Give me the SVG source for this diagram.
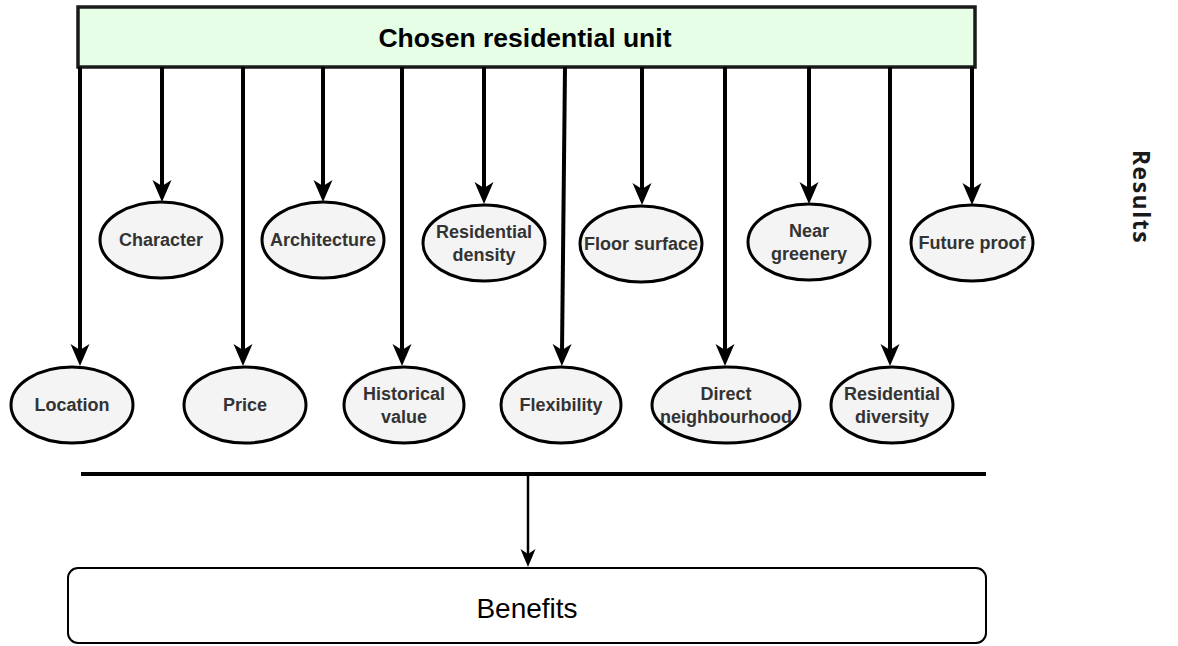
<svg xmlns="http://www.w3.org/2000/svg" width="1178" height="646" viewBox="0 0 1178 646">
  <style>
    .factor ellipse { fill: #f4f4f4; stroke: #000; stroke-width: 3; }
    .factor text { font-family: "Liberation Sans", Arial, sans-serif; font-weight: bold; font-size: 18px; fill: #333; text-anchor: middle; }
    .wire { stroke: #000; stroke-width: 4; fill: none; }
    .wire-thin { stroke: #000; stroke-width: 2.5; fill: none; }
  </style>
  <defs>
    <marker id="head" viewBox="0 -10 22 20" refX="8" refY="0" markerWidth="22" markerHeight="20" markerUnits="userSpaceOnUse" orient="auto">
      <path d="M22,0 L0,-9.5 L6,0 L0,9.5 Z" fill="#000"/>
    </marker>
    <marker id="head-small" viewBox="0 -8 18 16" refX="6" refY="0" markerWidth="18" markerHeight="16" markerUnits="userSpaceOnUse" orient="auto">
      <path d="M18,0 L0,-7.5 L5,0 L0,7.5 Z" fill="#000"/>
    </marker>
  </defs>

  <rect width="1178" height="646" fill="#fff"/>

  <!-- source box -->
  <g id="unit">
    <rect x="78" y="7" width="897" height="60" fill="#e6fde6" stroke="#1a1a1a" stroke-width="3.5"/>
    <text x="525" y="47" font-family="Liberation Sans, Arial, sans-serif" font-weight="bold" font-size="26.5" text-anchor="middle" fill="#000">Chosen residential unit</text>
  </g>

  <!-- connectors -->
  <g id="connectors">
    <line class="wire" x1="80" y1="67" x2="80" y2="352" marker-end="url(#head)"/>
    <line class="wire" x1="162" y1="67" x2="162" y2="188" marker-end="url(#head)"/>
    <line class="wire" x1="243" y1="67" x2="243" y2="352" marker-end="url(#head)"/>
    <line class="wire" x1="323" y1="67" x2="323" y2="188" marker-end="url(#head)"/>
    <line class="wire" x1="402" y1="67" x2="402" y2="352" marker-end="url(#head)"/>
    <line class="wire" x1="484" y1="67" x2="484" y2="190" marker-end="url(#head)"/>
    <line class="wire" x1="565" y1="67" x2="562" y2="352" marker-end="url(#head)"/>
    <line class="wire" x1="642" y1="67" x2="642" y2="191" marker-end="url(#head)"/>
    <line class="wire" x1="725" y1="67" x2="725" y2="352" marker-end="url(#head)"/>
    <line class="wire" x1="809" y1="67" x2="809" y2="190" marker-end="url(#head)"/>
    <line class="wire" x1="890" y1="67" x2="890" y2="352" marker-end="url(#head)"/>
    <line class="wire" x1="972" y1="67" x2="972" y2="191" marker-end="url(#head)"/>
    <line x1="81" y1="474" x2="986" y2="474" stroke="#000" stroke-width="4"/>
    <line class="wire-thin" x1="528" y1="474" x2="528" y2="555" marker-end="url(#head-small)"/>
  </g>

  <!-- upper row of factors -->
  <g id="character" class="factor">
    <ellipse cx="161" cy="240" rx="61" ry="38"/>
    <text x="161" y="246">Character</text>
  </g>
  <g id="architecture" class="factor">
    <ellipse cx="323" cy="240" rx="61" ry="38"/>
    <text x="323" y="246">Architecture</text>
  </g>
  <g id="residential-density" class="factor">
    <ellipse cx="484" cy="243" rx="61" ry="38"/>
    <text x="484" y="238">Residential</text>
    <text x="484" y="261">density</text>
  </g>
  <g id="floor-surface" class="factor">
    <ellipse cx="641" cy="244" rx="61" ry="38"/>
    <text x="641" y="250">Floor surface</text>
  </g>
  <g id="near-greenery" class="factor">
    <ellipse cx="809" cy="242" rx="61" ry="38"/>
    <text x="809" y="237">Near</text>
    <text x="809" y="260">greenery</text>
  </g>
  <g id="future-proof" class="factor">
    <ellipse cx="972" cy="243" rx="61" ry="38"/>
    <text x="972" y="249">Future proof</text>
  </g>

  <!-- lower row of factors -->
  <g id="location" class="factor">
    <ellipse cx="72" cy="405" rx="61" ry="38"/>
    <text x="72" y="411">Location</text>
  </g>
  <g id="price" class="factor">
    <ellipse cx="245" cy="405" rx="61" ry="38"/>
    <text x="245" y="411">Price</text>
  </g>
  <g id="historical-value" class="factor">
    <ellipse cx="404" cy="405" rx="60" ry="38"/>
    <text x="404" y="400">Historical</text>
    <text x="404" y="423">value</text>
  </g>
  <g id="flexibility" class="factor">
    <ellipse cx="561" cy="405" rx="60" ry="38"/>
    <text x="561" y="411">Flexibility</text>
  </g>
  <g id="direct-neighbourhood" class="factor">
    <ellipse cx="726" cy="405" rx="74" ry="38"/>
    <text x="726" y="400">Direct</text>
    <text x="726" y="423">neighbourhood</text>
  </g>
  <g id="residential-diversity" class="factor">
    <ellipse cx="892" cy="405" rx="61" ry="38"/>
    <text x="892" y="400">Residential</text>
    <text x="892" y="423">diversity</text>
  </g>

  <!-- outcome box -->
  <g id="benefits">
    <rect x="68" y="568" width="918" height="75" rx="10" ry="10" fill="#fff" stroke="#000" stroke-width="2"/>
    <text x="527" y="618" font-family="Liberation Sans, Arial, sans-serif" font-size="28" text-anchor="middle" fill="#000">Benefits</text>
  </g>

  <!-- side label -->
  <text transform="translate(1133,197) rotate(90)" font-family="Open Sans, Noto Sans, sans-serif" font-weight="700" font-size="23" letter-spacing="1.5" text-anchor="middle" fill="#1a1a1a">Results</text>
</svg>
